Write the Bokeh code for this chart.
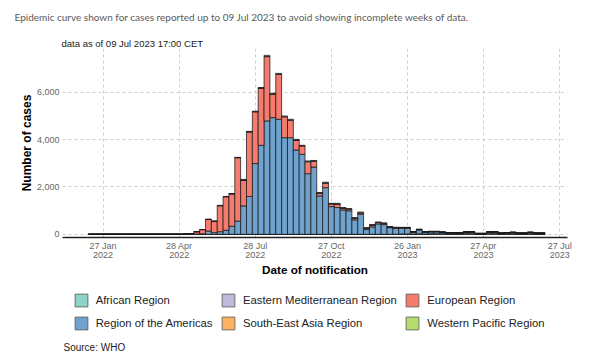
import pandas as pd
from bokeh.plotting import figure
from bokeh.layouts import column
from bokeh.models import (Range1d, FixedTicker, NumeralTickFormatter, Legend,
                          LegendItem, Label, ColumnDataSource, Title)
from bokeh.embed import file_html
from bokeh.resources import INLINE

# ---------------- data (weekly case counts, week mid-points) ----------------
first_week = "2022-01-13"

americas = [0] * 15 + [
    0, 0, 5,
    10, 20, 140, 70, 110, 170, 340, 560, 1200, 1600,
    2990, 3760, 4790, 4930, 4860, 4080, 4080, 3560, 3380, 2560, 2840, 1620,
    1970, 1170, 1130, 1030, 990, 610, 850, 200, 310, 440, 410, 280, 250,
    240, 240, 80, 160, 80, 80, 80, 60, 40, 40, 40, 60, 60, 20, 20, 60, 60,
    30, 40, 50, 30, 30, 50, 30, 30]

europe = [0] * 15 + [
    0, 5, 25,
    100, 180, 490, 480, 1100, 1420, 1370, 2680, 1090, 2730,
    2190, 2420, 2720, 1000, 1900, 890, 740, 420, 360, 510, 250, 120,
    200, 120, 150, 80, 70, 70, 60, 60, 80, 60, 50, 30, 30,
    30, 30, 15, 25, 15, 20, 20, 15, 10, 10, 10, 20, 20, 8, 8, 20, 20,
    10, 10, 15, 10, 10, 15, 10, 10]

africa = [0] * 15 + [
    0, 0, 0,
    0, 0, 0, 0, 15, 10, 10, 10, 30, 20,
    20, 20, 50, 30, 40, 30, 40, 30, 20, 30, 30, 20,
    30, 20, 30, 20, 25, 20, 30, 20, 20, 20, 20, 20, 20,
    10, 10, 5, 10, 5, 5, 5, 5, 5, 5, 5, 5, 5, 2, 2, 5, 5,
    2, 2, 5, 2, 2, 5, 2, 2]

western_pacific = [0] * 15 + [
    0, 0, 0,
    0, 0, 0, 0, 0, 0, 0, 0, 0, 0,
    0, 0, 0, 0, 0, 0, 0, 0, 0, 0, 0, 0,
    0, 0, 0, 0, 0, 0, 0, 0, 0, 0, 0, 0, 0,
    15, 15, 10, 20, 10, 20, 20, 20, 15, 15, 15, 25, 25, 10, 10, 25, 25,
    13, 18, 20, 13, 13, 20, 13, 13]

eastern_med = [0] * len(americas)
south_east_asia = [0] * len(americas)

region_keys = ["afr", "emr", "eur", "amr", "sear", "wpr"]
region_names = ["African Region", "Eastern Mediterranean Region", "European Region",
                "Region of the Americas", "South-East Asia Region", "Western Pacific Region"]
region_colors = ["#8DD3C7", "#BEBADA", "#F47B6E", "#6FA3CD", "#FDB462", "#B3DE69"]

tick_dates = ["2022-01-27", "2022-04-28", "2022-07-28", "2022-10-27",
              "2023-01-26", "2023-04-27", "2023-07-27"]
tick_labels = ["27 Jan\n2022", "28 Apr\n2022", "28 Jul\n2022", "27 Oct\n2022",
               "26 Jan\n2023", "27 Apr\n2023", "27 Jul\n2023"]
y_ticks = [0, 2000, 4000, 6000]

caption = "Epidemic curve shown for cases reported up to 09 Jul 2023 to avoid showing incomplete weeks of data."
subtitle = "data as of 09 Jul 2023 17:00 CET"
source_note = "Source: WHO"

# ---------------- build ----------------
weeks = pd.date_range(first_week, periods=len(americas), freq="7D")
source = ColumnDataSource(dict(
    week=weeks,
    afr=africa, emr=eastern_med, eur=europe, amr=americas,
    sear=south_east_asia, wpr=western_pacific))

FONT = "Liberation Sans"
key_to_name = dict(zip(region_keys, region_names))
key_to_color = dict(zip(region_keys, region_colors))

p = figure(width=600, height=285, x_axis_type="datetime",
           x_range=Range1d(pd.Timestamp("2021-12-09 12:00").to_pydatetime(),
                           pd.Timestamp("2023-08-05 08:00").to_pydatetime()),
           y_range=Range1d(-135, 7850),
           output_backend="svg", toolbar_location=None,
           min_border_left=62, min_border_right=33,
           min_border_top=47, min_border_bottom=48)
p.outline_line_color = None

stack_keys = ["wpr", "sear", "amr", "eur", "emr", "afr"]
week_ms = 7 * 24 * 3600 * 1000
p.vbar_stack(stack_keys, x="week", width=week_ms, source=source,
             fill_color=[key_to_color[k] for k in stack_keys],
             line_color="#1a1a1a", line_width=0.75)

# axes
ticks_ms = [pd.Timestamp(d).value / 1e6 for d in tick_dates]
p.xaxis.ticker = FixedTicker(ticks=ticks_ms)
p.xaxis.major_label_overrides = dict(zip(ticks_ms, tick_labels))
p.xgrid.ticker = FixedTicker(ticks=ticks_ms)
p.yaxis.ticker = FixedTicker(ticks=y_ticks)
p.ygrid.ticker = FixedTicker(ticks=y_ticks)
p.yaxis.formatter = NumeralTickFormatter(format="0,0")

for ax in (p.xaxis, p.yaxis):
    ax.major_tick_line_color = None
    ax.minor_tick_line_color = None
    ax.major_tick_out = 0
    ax.major_tick_in = 0
    ax.minor_tick_out = 0
    ax.minor_tick_in = 0
    ax.major_label_text_font = FONT
    ax.major_label_text_font_size = "9px"
    ax.major_label_text_color = "#666666"
    ax.axis_label_text_font = FONT
    ax.axis_label_text_font_style = "bold"
    ax.axis_label_text_color = "black"
    ax.major_label_standoff = 3

p.xaxis.major_label_text_line_height = 0.9
p.yaxis.axis_line_color = None
p.xaxis.axis_line_color = "#222222"
p.xaxis.axis_line_width = 1.3
p.xaxis.axis_label = "Date of notification"
p.yaxis.axis_label = "Number of cases"
p.xaxis.axis_label_text_font_size = "11.7px"
p.yaxis.axis_label_text_font_size = "12px"
p.xaxis.axis_label_standoff = 0
p.yaxis.axis_label_standoff = 0

for g in (p.xgrid, p.ygrid):
    g.grid_line_color = "#cccccc"
    g.grid_line_dash = "3 3"
    g.grid_line_width = 1

# titles above the plot
p.add_layout(Title(text=subtitle, align="left", offset=-1, standoff=0,
                   text_font=FONT, text_font_size="9.5px",
                   text_font_style="normal", text_color="#1a1a1a"), "above")
p.add_layout(Title(text=caption, align="left", offset=-48, standoff=21,
                   vertical_align="top",
                   text_font="Lato", text_font_size="10px",
                   text_font_style="normal", text_color="#5a5a5a"), "above")

# ---------------- legend strip (frame is aligned with the plot above) ----------------
q = figure(width=600, height=73, x_range=Range1d(0, 1), y_range=Range1d(0, 1),
           x_axis_type=None, y_axis_type=None, output_backend="svg",
           toolbar_location=None, min_border=0)
q.outline_line_color = None
q.xgrid.visible = False
q.ygrid.visible = False
swatch = {}
nan = float("nan")
for k in region_keys:
    # legend proxies only (no visible mark)
    swatch[key_to_name[k]] = q.vbar(x=[nan], top=[nan], bottom=[nan], width=0.1,
                                    fill_color=key_to_color[k],
                                    line_color="#555555", line_width=0.8)

legend_columns = [(["African Region", "Region of the Americas"], 10.7),
                  (["Eastern Mediterranean Region", "South-East Asia Region"], 158),
                  (["European Region", "Western Pacific Region"], 342.3)]
for names, xoff in legend_columns:
    lg = Legend(items=[LegendItem(label=n, renderers=[swatch[n]]) for n in names],
                location=(xoff, 27.3), orientation="vertical",
                glyph_width=16, glyph_height=16, label_height=16,
                spacing=7, label_standoff=7, padding=0, margin=0,
                border_line_color=None, background_fill_alpha=0,
                label_text_font=FONT, label_text_font_size="11.3px",
                label_text_color="#222222")
    q.add_layout(lg, "center")

q.add_layout(Label(x=1, y=11, x_units="screen", y_units="screen",
                   text=source_note, text_font=FONT, text_font_size="10px",
                   text_color="#222222", text_baseline="middle"))

layout = column(p, q, spacing=0)
open("out.html", "w").write(file_html(layout, INLINE))
